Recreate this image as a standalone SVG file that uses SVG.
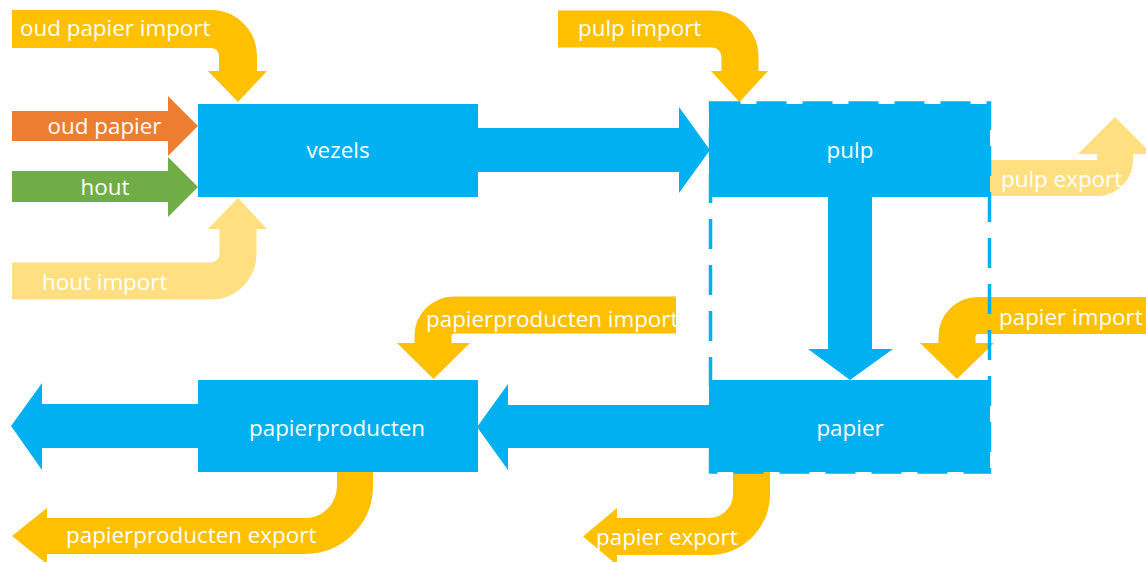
<svg xmlns="http://www.w3.org/2000/svg" width="1146" height="562" viewBox="0 0 1146 562">
<style>
.box{fill:#00B0F0}
.blue{fill:#00B0F0}
.y{fill:none;stroke:#FFC000;stroke-linecap:butt}
.yh{fill:#FFC000}
.ly{fill:none;stroke:#FFDF80;stroke-linecap:butt}
.lyh{fill:#FFDF80}
.t{font-family:"Open Sans","DejaVu Sans",sans-serif;font-size:22.4px;fill:#FFFFFF}
.c{text-anchor:middle}
.dash{fill:none;stroke:#00B0F0;stroke-width:3.5;stroke-dasharray:30 16}
</style>
<rect width="1146" height="562" fill="#FFFFFF"/>
<g id="connectors">
  <!-- oud papier import -->
  <path class="y" stroke-width="38" d="M12,29 H211 A27,27 0 0 1 238,56 V72"/>
  <polygon class="yh" points="208,71 267,71 238,102"/>
  <!-- hout import -->
  <path class="ly" stroke-width="37" d="M12,281 H211 A27,27 0 0 0 238,254 V228"/>
  <polygon class="lyh" points="208,229 267,229 238,198"/>
  <!-- oud papier -->
  <polygon fill="#ED7D31" points="12,111 168,111 168,96 198,126 168,156 168,141 12,141"/>
  <!-- hout -->
  <polygon fill="#70AD47" points="12,171 168,171 168,157 198,187 168,217 168,202 12,202"/>
  <!-- vezels to pulp -->
  <polygon class="blue" points="478,128 679,128 679,107 710,150 679,193 679,172 478,172"/>
  <!-- pulp import -->
  <path class="y" stroke-width="37" d="M558,29 H712 A28,28 0 0 1 740,57 V72"/>
  <polygon class="yh" points="711,71 768,71 739.5,102"/>
  <!-- pulp export -->
  <path class="ly" stroke-width="36" d="M990,178 H1097 A18,18 0 0 0 1115,160 V154"/>
  <polygon class="lyh" points="1078,154 1152,154 1115,117"/>
  <!-- pulp to papier -->
  <polygon class="blue" points="828,196 872,196 872,349 893,349 850,380 808,349 828,349"/>
  <!-- papier import -->
  <path class="y" stroke-width="37" d="M1146,315.5 H978 A21,21 0 0 0 957,336.5 V344"/>
  <polygon class="yh" points="920,343 994,343 957,379"/>
  <!-- papierproducten import -->
  <path class="y" stroke-width="37" d="M676,315 H454 A21,21 0 0 0 433,336 V344"/>
  <polygon class="yh" points="397,343 470,343 433.5,379"/>
  <!-- papier to papierproducten -->
  <polygon class="blue" points="709,405 508,405 508,384 477,427 508,470 508,448 709,448"/>
  <!-- papierproducten out -->
  <polygon class="blue" points="198,404 42,404 42,383 11,426 42,470 42,448 198,448"/>
  <!-- papierproducten export -->
  <path class="y" stroke-width="36" d="M355,472 V486 A50,50 0 0 1 305,536 H47"/>
  <polygon class="yh" points="47,508 47,564 12,536"/>
  <!-- papier export -->
  <path class="y" stroke-width="37" d="M751.5,472 V494 A42.5,42.5 0 0 1 709,536.5 H617"/>
  <polygon class="yh" points="617,508 617,565 583,536.5"/>
  <!-- labels -->
  <text class="t" x="20" y="36">oud papier import</text>
  <text class="t c" x="104.5" y="134">oud papier</text>
  <text class="t c" x="105" y="195">hout</text>
  <text class="t" x="42" y="290">hout import</text>
  <text class="t" x="578" y="36">pulp import</text>
  <text class="t" x="1001" y="187">pulp export</text>
  <text class="t" x="426" y="327">papierproducten import</text>
  <text class="t" x="999" y="325">papier import</text>
  <text class="t" x="66" y="543">papierproducten export</text>
  <text class="t" x="596" y="545">papier export</text>
</g>
<g id="vezels">
  <rect class="box" x="198" y="104" width="280" height="93"/>
  <text class="t c" x="338" y="158">vezels</text>
</g>
<g id="pulp">
  <rect class="box" x="709" y="104" width="281" height="93"/>
  <text class="t c" x="850" y="158">pulp</text>
</g>
<g id="papier">
  <rect class="box" x="709" y="380" width="281" height="92"/>
  <text class="t c" x="850" y="436">papier</text>
</g>
<g id="papierproducten">
  <rect class="box" x="198" y="380" width="280" height="92"/>
  <text class="t c" x="337" y="436">papierproducten</text>
</g>
<g id="group-boundary">
  <rect class="dash" x="710.5" y="103" width="279" height="369"/>
</g>
</svg>
